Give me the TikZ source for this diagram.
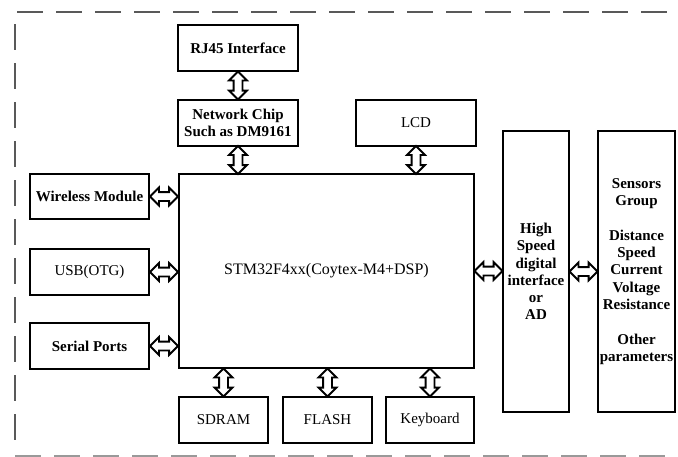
\documentclass[tikz,border=0pt]{standalone}
\usepackage{fontspec}
\setmainfont{Liberation Serif}
\usetikzlibrary{shapes.arrows}

\begin{document}
\begin{tikzpicture}[x=1pt, y=-1pt,
  box/.style={draw, line width=2pt, inner sep=0pt, align=center,
    font=\fontsize{15}{17.3}\selectfont},
  boldbox/.style={box, font=\fontsize{15}{17.3}\selectfont\bfseries},
  biarrow/.style={double arrow, draw, fill=white, line width=1.8pt,
    inner sep=0pt, inner ysep=3.5pt, minimum width=17pt, minimum height=28pt,
    double arrow head extend=4.5pt},
  frame/.style={draw=black!65, line width=2.6pt, dash pattern=on 26pt off 13pt}]
  \useasboundingbox (0,0) rectangle (678,456);

  % Dashed frame
  \draw[frame] (17,12) -- (668,12);
  \draw[frame] (15,24) -- (15,441);
  \draw[frame, draw=black!40] (15,456) -- (668,456);

  % Network side
  \node[boldbox, minimum width=120pt, minimum height=46pt] (rj45) at (238,48) {RJ45 Interface};
  \node[boldbox, minimum width=120pt, minimum height=46pt] (netchip) at (238,123) {Network Chip\\Such as DM9161};
  \node[box, minimum width=120pt, minimum height=46pt] (lcd) at (416,123) {LCD};

  % Controller
  \node[box, font=\fontsize{16}{18}\selectfont, minimum width=295pt, minimum height=194pt] (mcu) at (326.5,271) {STM32F4xx(Coytex-M4+DSP)};

  % Left side modules
  \node[boldbox, minimum width=119pt, minimum height=45pt] (wireless) at (89.5,196.5) {Wireless Module};
  \node[box, minimum width=119pt, minimum height=46pt] (usb) at (89.5,272) {USB(OTG)};
  \node[boldbox, minimum width=119pt, minimum height=46pt] (serial) at (89.5,346) {Serial Ports};

  % Bottom modules
  \node[box, minimum width=89pt, minimum height=46pt] (sdram) at (223.5,420) {SDRAM};
  \node[box, minimum width=89pt, minimum height=46pt] (flash) at (327.5,420) {FLASH};
  \node[box, minimum width=88pt, minimum height=46pt] (keyboard) at (430,420) {Keyboard};

  % Interface and sensors
  \node[boldbox, minimum width=66pt, minimum height=281pt] (hsif) at (536,271.5) {High\\Speed\\digital\\interface\\or\\AD};
  \node[boldbox, minimum width=77pt, minimum height=281pt] (sensors) at (636.5,271.5)
    {Sensors\\Group\\[17.3pt]Distance\\Speed\\Current\\Voltage\\Resistance\\[17.3pt]Other\\parameters};

  % Bus arrows
  \path (rj45.south) -- (netchip.north) node[midway, sloped, biarrow] {};
  \path (netchip.south) -- (netchip.south |- mcu.north) node[midway, sloped, biarrow] {};
  \path (lcd.south) -- (lcd.south |- mcu.north) node[midway, sloped, biarrow] {};
  \path (wireless.east) -- (wireless.east -| mcu.west) node[midway, biarrow] {};
  \path (usb.east) -- (usb.east -| mcu.west) node[midway, biarrow] {};
  \path (serial.east) -- (serial.east -| mcu.west) node[midway, biarrow] {};
  \path (sdram.north) -- (sdram.north |- mcu.south) node[midway, sloped, biarrow] {};
  \path (flash.north) -- (flash.north |- mcu.south) node[midway, sloped, biarrow] {};
  \path (keyboard.north) -- (keyboard.north |- mcu.south) node[midway, sloped, biarrow] {};
  \path (mcu.east) -- (mcu.east -| hsif.west) node[midway, biarrow] {};
  \path (hsif.east) -- (hsif.east -| sensors.west) node[midway, biarrow] {};
\end{tikzpicture}
\end{document}
